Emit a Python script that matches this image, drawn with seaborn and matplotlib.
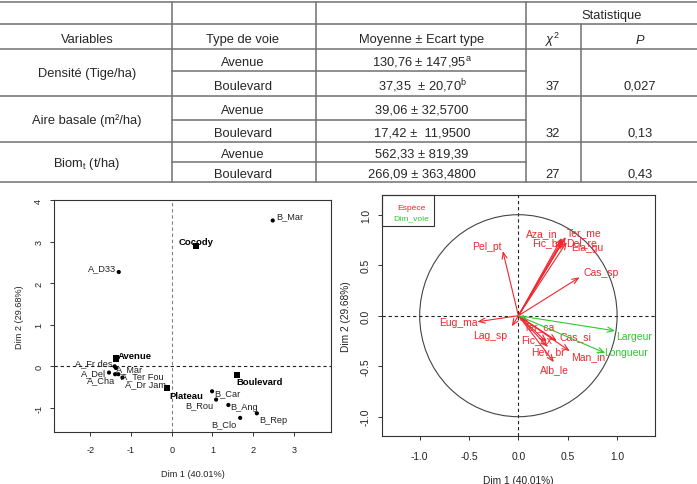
import matplotlib
matplotlib.use("Agg")
import matplotlib.pyplot as plt
from matplotlib.patches import Circle, Rectangle
import pandas as pd
import seaborn as sns

sns.set_style("ticks")
plt.rcParams["font.family"] = ["Liberation Sans", "DejaVu Sans"]
plt.rcParams["mathtext.fontset"] = "custom"
plt.rcParams["mathtext.rm"] = "Liberation Sans"
plt.rcParams["mathtext.it"] = "Liberation Sans:italic"
plt.rcParams["mathtext.bf"] = "Liberation Sans:bold"
plt.rcParams["axes.unicode_minus"] = False

# ── table data ────────────────────────────────────────────────────────────────
headers = ["Variables", "Type de voie", "Moyenne ± Ecart type", r"$\chi^{2}$", r"$P$"]
variables = ["Densité (Tige/ha)", "Aire basale (m²/ha)", r"Biom$_{\mathrm{t}}$ (t/ha)"]
voies = ["Avenue", "Boulevard"]
moyennes = [r"130,76 ± 147,95$^{\mathrm{a}}$", r"37,35  ± 20,70$^{\mathrm{b}}$",
            "39,06 ± 32,5700", "17,42 ±  11,9500",
            "562,33 ± 819,39", "266,09 ± 363,4800"]
chi2 = [37, 32, 27]
p_values = ["0,027", "0,13", "0,43"]

# ── individuals factor map ───────────────────────────────────────────────────
ind_names = ["A_D33", "A_Fr des", "A_Mar", "A_Del", "A_Cha", "A_Ter Fou", "A_Dr Jam",
             "B_Car", "B_Rou", "B_Ang", "B_Clo", "B_Rep", "B_Mar"]
ind_dim1 = [-1.30, -1.40, -1.37, -1.54, -1.39, -1.31, -1.21, 0.99, 1.09, 1.39, 1.68, 2.09, 2.48]
ind_dim2 = [2.27, 0.00, -0.04, -0.15, -0.19, -0.19, -0.27, -0.60, -0.80, -0.93, -1.24, -1.13, 3.51]
cat_names = ["Cocody", "Avenue", "Plateau", "Boulevard"]
cat_dim1 = [0.60, -1.37, -0.11, 1.61]
cat_dim2 = [2.89, 0.19, -0.52, -0.20]

# ── variables factor map ─────────────────────────────────────────────────────
esp_names = ["Pel_pt", "Aza_in", "Ter_me", "Fic_be", "Del_re", "Ela_gu", "Cas_sp", "Eug_ma",
             "Lag_sp", "Ter_ca", "Fic_ex", "Cas_si", "Hev_br", "Man_in", "Alb_le"]
esp_dim1 = [-0.158, 0.44, 0.48, 0.44, 0.46, 0.49, 0.62, -0.415,
            -0.067, 0.10, 0.287, 0.39, 0.30, 0.52, 0.36]
esp_dim2 = [0.64, 0.77, 0.78, 0.74, 0.75, 0.73, 0.38, -0.06,
            -0.105, -0.06, -0.26, -0.25, -0.31, -0.35, -0.46]
voie_names = ["Largeur", "Longueur"]
voie_dim1 = [0.98, 0.88]
voie_dim2 = [-0.15, -0.37]

RED, GREEN = "#f0262e", "#2ec82e"

# label offsets in points (label centre relative to the mark)
ind_off = {"A_D33": (-12.2, 3.4), "A_Fr des": (-15, 2.9), "A_Mar": (9.9, -0.2),
           "A_Del": (-11, 0.1), "A_Cha": (-10.4, -4), "A_Ter Fou": (17.2, -1.1),
           "A_Dr Jam": (16.7, -4.2), "B_Car": (11.3, -0.8), "B_Rou": (-12.3, -4),
           "B_Ang": (11.5, -1), "B_Clo": (-11.4, -4), "B_Rep": (11.7, -4.2),
           "B_Mar": (12.2, 3.6)}
cat_off = {"Cocody": (0, 3.6), "Avenue": (13.7, 2.4), "Plateau": (13.8, -5.1),
           "Boulevard": (15.9, -4.8)}
var_off = {"Pel_pt": (-11.3, 3.6), "Aza_in": (-14.2, 3.8), "Ter_me": (13, 3.1),
           "Fic_be": (-9.9, -1.2), "Del_re": (12.7, -1.9), "Ela_gu": (15, -3.6),
           "Cas_sp": (15.5, 4), "Eug_ma": (-13.4, -0.4), "Lag_sp": (-15.6, -6.3),
           "Ter_ca": (7.9, -2.9), "Fic_ex": (-7.2, 2.4), "Cas_si": (13.5, 3.6),
           "Hev_br": (-0.4, -3.1), "Man_in": (13, -4), "Alb_le": (0.4, -4.8),
           "Largeur": (13.7, -4), "Longueur": (15.1, 0.7)}

W, H = 697, 485
fig = plt.figure(figsize=(W / 100, H / 100), dpi=100)

# ── table ────────────────────────────────────────────────────────────────────
tab = fig.add_axes([0, 1 - 186 / H, 1, 186 / H])
tab.set_xlim(0, W)
tab.set_ylim(186, 0)
tab.axis("off")
line_kw = dict(color="#707070", lw=1.1)
for y in [3, 25, 50, 97, 143, 183]:
    tab.plot([0, W], [y, y], **line_kw)
for y in [72, 121, 163]:
    tab.plot([172, 526], [y, y], **line_kw)
for x in [172, 316, 526]:
    tab.plot([x, x], [3, 183], **line_kw)
tab.plot([581, 581], [25, 183], **line_kw)

fs = 9.3
col_x = [87, 243, 422, 553, 640]
tab.text(612, 16, "Statistique", ha="center", va="center", fontsize=fs)
for x, h in zip(col_x, headers):
    tab.text(x, 40, h, ha="center", va="center", fontsize=fs)
row_top = [50, 97, 143]
row_mid = [72, 121, 163]
row_bot = [97, 143, 183]
for i, var in enumerate(variables):
    t, m, b = row_top[i], row_mid[i], row_bot[i]
    tab.text(col_x[0], (t + b) / 2 + 1, var, ha="center", va="center", fontsize=fs)
    for j, (y0, y1) in enumerate([(t, m), (m, b)]):
        yc = (y0 + y1) / 2 + 2
        tab.text(col_x[1], yc, voies[j], ha="center", va="center", fontsize=fs)
        tab.text(col_x[2], yc, moyennes[2 * i + j], ha="center", va="center", fontsize=fs)
    yc = (m + b) / 2 + 2
    tab.text(col_x[3], yc, str(chi2[i]), ha="center", va="center", fontsize=fs)
    tab.text(col_x[4], yc, p_values[i], ha="center", va="center", fontsize=fs)


def style_axes(ax, fsize, pad):
    for sp in ax.spines.values():
        sp.set_visible(True)
        sp.set_color("#333333")
        sp.set_linewidth(0.8)
    ax.tick_params(axis="both", length=3.2, width=0.7, color="#333333",
                   labelsize=fsize, labelcolor="#222222")
    ax.tick_params(axis="x", pad=pad)
    ax.tick_params(axis="y", pad=4.5)
    for lab in ax.get_yticklabels():
        lab.set_rotation(90)
        lab.set_va("center")


# ── left: individuals ────────────────────────────────────────────────────────
ax1 = fig.add_axes([54 / W, 1 - 433 / H, 277 / W, 232.3 / H])
ind = pd.DataFrame({"name": ind_names, "d1": ind_dim1, "d2": ind_dim2})
cat = pd.DataFrame({"name": cat_names, "d1": cat_dim1, "d2": cat_dim2})
ax1.axvline(0, color="#808080", lw=0.8, ls=(0, (3, 2.5)), zorder=1)
ax1.axhline(0, color="#222222", lw=0.8, ls=(0, (3, 2.5)), zorder=1)
sns.scatterplot(data=ind, x="d1", y="d2", ax=ax1, color="black", s=9,
                marker="o", edgecolor="none", zorder=3)
sns.scatterplot(data=cat, x="d1", y="d2", ax=ax1, color="black", s=20,
                marker="s", edgecolor="none", zorder=3)
for n, x, y in zip(ind_names, ind_dim1, ind_dim2):
    ax1.annotate(n, (x, y), xytext=ind_off[n], textcoords="offset points",
                 ha="center", va="center", fontsize=6.7, color="#222222")
for n, x, y in zip(cat_names, cat_dim1, cat_dim2):
    ax1.annotate(n, (x, y), xytext=cat_off[n], textcoords="offset points",
                 ha="center", va="center", fontsize=6.8, fontweight="bold", color="black")
ax1.set_xlim(-2.89, 3.91)
ax1.set_ylim(-1.58, 4.01)
ax1.set_xticks([-2, -1, 0, 1, 2, 3])
ax1.set_yticks([-1, 0, 1, 2, 3, 4])
ax1.set_xlabel("Dim 1 (40.01%)", fontsize=6.6, color="#222222")
ax1.set_ylabel("Dim 2 (29.68%)", fontsize=6.6, color="#222222")
style_axes(ax1, 6.6, 6.0)
ax1.xaxis.set_label_coords(0.5, -0.16)
ax1.yaxis.set_label_coords(-0.11, 0.5)
ax1.xaxis.label.set_va("top")

# ── right: variables ─────────────────────────────────────────────────────────
ax2 = fig.add_axes([381.7 / W, 1 - 436.7 / H, 273.6 / W, 240.7 / H])
ax2.axvline(0, color="#222222", lw=0.8, ls=(0, (3, 2.5)), zorder=1)
ax2.axhline(0, color="#222222", lw=0.8, ls=(0, (3, 2.5)), zorder=1)
ax2.add_patch(Circle((0, 0), 1, fill=False, ec="#444444", lw=0.8))
arrow_kw = dict(arrowstyle="->,head_length=0.45,head_width=0.18", lw=0.8,
                shrinkA=0, shrinkB=0)
for names, d1, d2, col in [(esp_names, esp_dim1, esp_dim2, RED),
                           (voie_names, voie_dim1, voie_dim2, GREEN)]:
    for n, x, y in zip(names, d1, d2):
        ax2.annotate("", xy=(x, y), xytext=(0, 0),
                     arrowprops=dict(color=col, **arrow_kw))
        ax2.annotate(n, (x, y), xytext=var_off[n], textcoords="offset points",
                     ha="center", va="center", fontsize=7.5, color=col)
ax2.add_patch(Rectangle((0, 0.87), 0.192, 0.13, transform=ax2.transAxes,
                        fill=False, ec="#333333", lw=0.8, clip_on=False))
ax2.text(0.107, 0.949, "Espèce", transform=ax2.transAxes, ha="center",
         va="center", fontsize=6.1, color=RED)
ax2.text(0.107, 0.904, "Dim_voie", transform=ax2.transAxes, ha="center",
         va="center", fontsize=6.1, color=GREEN)
ax2.set_xlim(-1.385, 1.387)
ax2.set_ylim(-1.188, 1.195)
ax2.set_xticks([-1.0, -0.5, 0.0, 0.5, 1.0])
ax2.set_yticks([-1.0, -0.5, 0.0, 0.5, 1.0])
ax2.set_xticklabels(["-1.0", "-0.5", "0.0", "0.5", "1.0"])
ax2.set_yticklabels(["-1.0", "-0.5", "0.0", "0.5", "1.0"])
ax2.set_xlabel("Dim 1 (40.01%)", fontsize=7.3, color="#222222")
ax2.set_ylabel("Dim 2 (29.68%)", fontsize=7.3, color="#222222")
style_axes(ax2, 7.4, 7.8)
ax2.xaxis.set_label_coords(0.5, -0.165)
ax2.yaxis.set_label_coords(-0.112, 0.5)
ax2.xaxis.label.set_va("top")

fig.savefig("out.png", dpi=100)
